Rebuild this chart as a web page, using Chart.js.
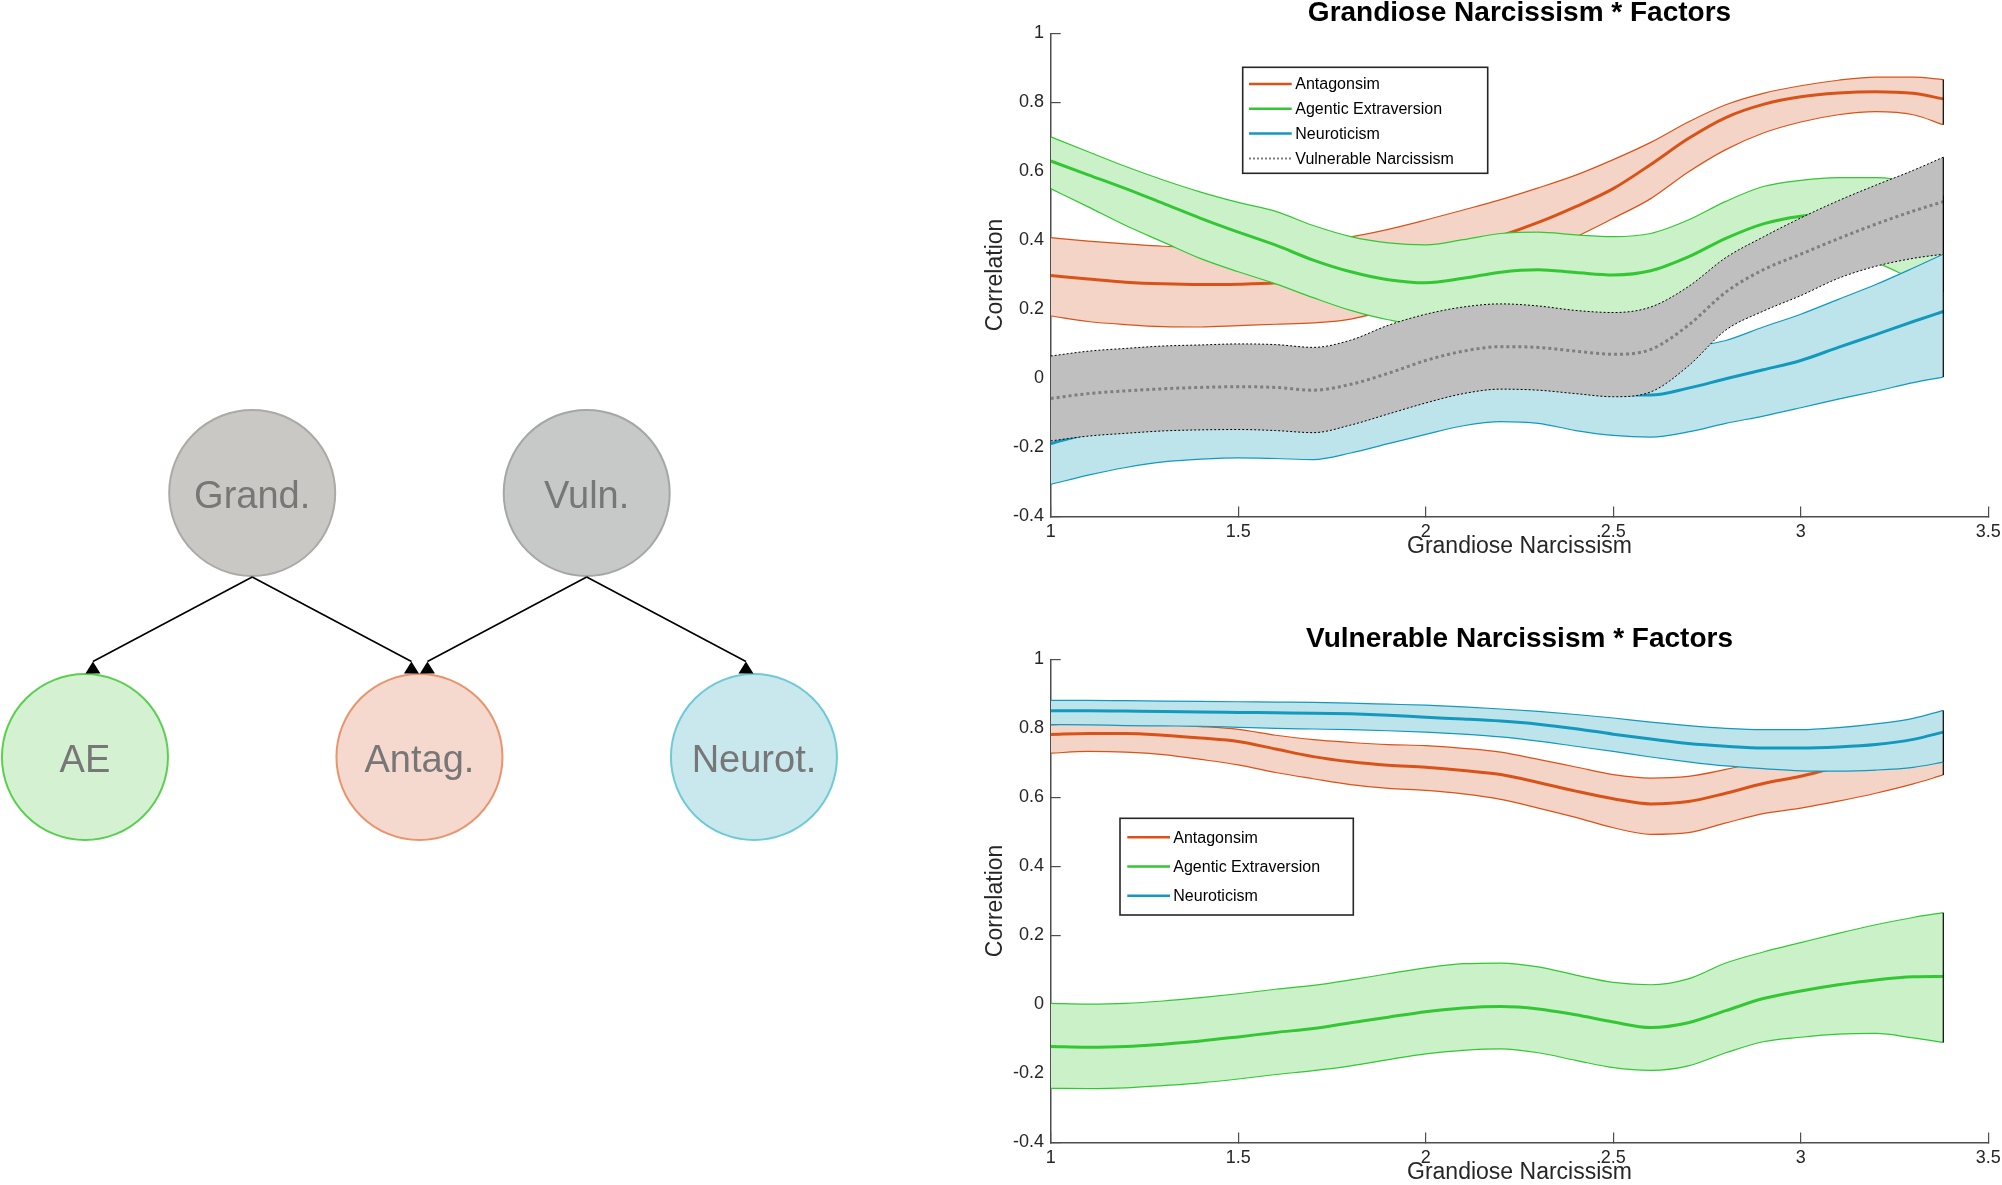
<!DOCTYPE html>
<html>
<head>
<meta charset="utf-8">
<title>Narcissism * Factors</title>
<script src="https://cdn.jsdelivr.net/npm/chart.js@4.4.1/dist/chart.umd.min.js"></script>
<style>
  html, body { margin: 0; padding: 0; background: #fff; }
  #page { position: relative; width: 2002px; height: 1185px; overflow: hidden; }
  .box { position: absolute; }
</style>
</head>
<body>
<div id="page">
  <div class="box" style="left:0;top:0;width:960px;height:1185px"><canvas id="diagram"></canvas></div>
  <div class="box" style="left:960px;top:0;width:1042px;height:559px"><canvas id="grandChart"></canvas></div>
  <div class="box" style="left:960px;top:626px;width:1042px;height:559px"><canvas id="vulnChart"></canvas></div>
</div>
<script>
// ---- diagram ----
const nodeNames = ['Grand.', 'Vuln.', 'AE', 'Antag.', 'Neurot.'];
const nodeCol = [1, 3, 0, 2, 4];
const nodeRow = [1, 1, 0, 0, 0];
const nodeFill = ['#c9c8c4', '#c6c9c8', '#d4f1d1', '#f6d9ce', '#c9e8ed'];
const nodeEdge = ['#abaaa6', '#a5a7a7', '#5ccf52', '#e8946c', '#6fcad6'];
const edges = [[0, 2], [0, 3], [1, 3], [1, 4]];

// ---- line charts ----
const xs = [1.0, 1.1, 1.2, 1.3, 1.4, 1.5, 1.6, 1.7, 1.8, 1.9, 2.0, 2.1, 2.2, 2.3, 2.4, 2.5, 2.6, 2.7, 2.8, 2.9, 3.0, 3.1, 3.2, 3.3, 3.38];
const factorNames = ['Antagonsim', 'Agentic Extraversion', 'Neuroticism', 'Vulnerable Narcissism'];
const xTicks = [1, 1.5, 2, 2.5, 3, 3.5];
const yTicks = [-0.4, -0.2, 0, 0.2, 0.4, 0.6, 0.8, 1];

// Grandiose narcissism panel
const gAntHi  = [0.408, 0.398, 0.390, 0.383, 0.380, 0.380, 0.384, 0.395, 0.410, 0.432, 0.459, 0.488, 0.518, 0.552, 0.589, 0.634, 0.684, 0.743, 0.793, 0.826, 0.848, 0.864, 0.873, 0.873, 0.866];
const gAntMid = [0.298, 0.288, 0.279, 0.274, 0.272, 0.273, 0.277, 0.288, 0.305, 0.327, 0.352, 0.380, 0.413, 0.452, 0.498, 0.550, 0.620, 0.695, 0.756, 0.794, 0.816, 0.827, 0.831, 0.826, 0.810];
const gAntLo  = [0.181, 0.165, 0.156, 0.150, 0.149, 0.153, 0.157, 0.161, 0.172, 0.200, 0.245, 0.285, 0.325, 0.365, 0.410, 0.464, 0.521, 0.598, 0.663, 0.711, 0.743, 0.764, 0.773, 0.764, 0.735];

const gAeHi  = [0.700, 0.657, 0.614, 0.575, 0.540, 0.510, 0.484, 0.443, 0.411, 0.393, 0.387, 0.402, 0.420, 0.424, 0.416, 0.411, 0.420, 0.459, 0.513, 0.556, 0.574, 0.582, 0.582, 0.565, 0.530];
const gAeMid = [0.630, 0.590, 0.550, 0.507, 0.464, 0.424, 0.386, 0.343, 0.309, 0.286, 0.277, 0.290, 0.308, 0.315, 0.307, 0.300, 0.312, 0.352, 0.406, 0.448, 0.470, 0.478, 0.465, 0.440, 0.400];
const gAeLo  = [0.550, 0.497, 0.443, 0.395, 0.347, 0.309, 0.274, 0.234, 0.197, 0.170, 0.155, 0.165, 0.185, 0.195, 0.190, 0.185, 0.195, 0.235, 0.285, 0.325, 0.345, 0.348, 0.335, 0.287, 0.250];

const gNeuHi  = [-0.070, -0.060, -0.045, -0.035, -0.030, -0.025, -0.025, -0.030, -0.010, 0.020, 0.050, 0.070, 0.080, 0.080, 0.075, 0.070, 0.075, 0.090, 0.110, 0.149, 0.186, 0.229, 0.272, 0.320, 0.360];
const gNeuMid = [-0.189, -0.160, -0.145, -0.135, -0.130, -0.125, -0.125, -0.130, -0.110, -0.080, -0.050, -0.025, -0.015, -0.018, -0.030, -0.045, -0.048, -0.028, -0.001, 0.025, 0.052, 0.090, 0.127, 0.165, 0.194];
const gNeuLo  = [-0.307, -0.280, -0.258, -0.242, -0.234, -0.230, -0.232, -0.235, -0.216, -0.189, -0.162, -0.137, -0.125, -0.130, -0.151, -0.165, -0.170, -0.155, -0.130, -0.109, -0.085, -0.060, -0.037, -0.012, 0.004];

const gVulHi  = [0.065, 0.079, 0.087, 0.094, 0.097, 0.100, 0.098, 0.090, 0.111, 0.154, 0.186, 0.207, 0.216, 0.210, 0.197, 0.191, 0.207, 0.266, 0.350, 0.410, 0.465, 0.515, 0.560, 0.603, 0.641];
const gVulMid = [-0.058, -0.044, -0.036, -0.030, -0.026, -0.024, -0.026, -0.034, -0.017, 0.015, 0.052, 0.079, 0.092, 0.090, 0.079, 0.070, 0.084, 0.154, 0.250, 0.315, 0.360, 0.405, 0.447, 0.485, 0.512];
const gVulLo  = [-0.181, -0.167, -0.159, -0.152, -0.149, -0.148, -0.151, -0.157, -0.135, -0.103, -0.071, -0.044, -0.031, -0.034, -0.044, -0.053, -0.039, 0.036, 0.140, 0.195, 0.240, 0.290, 0.325, 0.348, 0.360];

// Vulnerable narcissism panel
const vAntHi  = [0.810, 0.815, 0.815, 0.810, 0.805, 0.797, 0.780, 0.767, 0.759, 0.753, 0.750, 0.742, 0.731, 0.710, 0.688, 0.666, 0.656, 0.661, 0.681, 0.705, 0.730, 0.750, 0.765, 0.775, 0.785];
const vAntMid = [0.782, 0.785, 0.785, 0.780, 0.772, 0.762, 0.740, 0.718, 0.703, 0.693, 0.687, 0.678, 0.666, 0.643, 0.618, 0.596, 0.581, 0.588, 0.612, 0.640, 0.661, 0.688, 0.705, 0.718, 0.728];
const vAntLo  = [0.728, 0.733, 0.731, 0.724, 0.710, 0.694, 0.672, 0.654, 0.637, 0.626, 0.620, 0.610, 0.594, 0.569, 0.542, 0.512, 0.493, 0.498, 0.526, 0.553, 0.569, 0.589, 0.612, 0.639, 0.665];

const vAeHi  = [0.003, 0.001, 0.003, 0.010, 0.020, 0.031, 0.044, 0.055, 0.071, 0.089, 0.106, 0.118, 0.120, 0.109, 0.085, 0.064, 0.057, 0.074, 0.120, 0.152, 0.179, 0.206, 0.231, 0.252, 0.266];
const vAeMid = [-0.122, -0.124, -0.122, -0.115, -0.106, -0.094, -0.081, -0.070, -0.053, -0.037, -0.021, -0.010, -0.006, -0.013, -0.030, -0.051, -0.067, -0.053, -0.018, 0.017, 0.039, 0.057, 0.071, 0.080, 0.081];
const vAeLo  = [-0.243, -0.244, -0.242, -0.235, -0.227, -0.216, -0.203, -0.192, -0.178, -0.160, -0.143, -0.133, -0.129, -0.140, -0.162, -0.183, -0.191, -0.178, -0.140, -0.108, -0.095, -0.086, -0.084, -0.097, -0.110];

const vNeuHi  = [0.881, 0.881, 0.880, 0.879, 0.878, 0.877, 0.876, 0.875, 0.873, 0.870, 0.867, 0.862, 0.856, 0.849, 0.840, 0.830, 0.818, 0.808, 0.800, 0.796, 0.796, 0.802, 0.813, 0.829, 0.852];
const vNeuMid = [0.851, 0.851, 0.850, 0.849, 0.847, 0.846, 0.845, 0.844, 0.842, 0.838, 0.832, 0.827, 0.821, 0.812, 0.799, 0.783, 0.769, 0.756, 0.748, 0.743, 0.743, 0.746, 0.753, 0.768, 0.789];
const vNeuLo  = [0.811, 0.810, 0.808, 0.807, 0.806, 0.803, 0.800, 0.798, 0.796, 0.793, 0.789, 0.783, 0.775, 0.763, 0.748, 0.733, 0.717, 0.703, 0.691, 0.683, 0.677, 0.676, 0.679, 0.687, 0.702];

const lineColors = ['#d95319', '#33c733', '#1399bd', '#7f7f7f'];
const bandColors = ['#f5d4c8', '#cbf1c9', '#bde4eb', '#bfbfbf'];

Chart.defaults.font.family = '"Liberation Sans", Arial, Helvetica, sans-serif';
Chart.defaults.color = '#262626';

const pts = arr => arr.map((v, i) => ({ x: xs[i], y: v }));

// one factor = filled band + two edges + mean + black closing edge at the right end
function factorSets(k, lo, mid, hi, order, grey) {
  const edge = grey
    ? { borderColor: '#000', borderWidth: 1, borderDash: [2, 2] }
    : { borderColor: lineColors[k], borderWidth: 1.2 };
  const last = xs.length - 1;
  return [
    Object.assign({ data: pts(hi), fill: '+1', backgroundColor: bandColors[k], order: order + 4 }, edge),
    Object.assign({ data: pts(lo), fill: false, order: order + 3 }, edge),
    { data: pts(mid), fill: false, borderColor: lineColors[k], borderWidth: 3,
      borderDash: grey ? [3, 3] : [], order: order + 2, legendLabel: factorNames[k] },
    { data: [{ x: xs[last], y: hi[last] }, { x: xs[last], y: lo[last] }], fill: false,
      borderColor: '#000', borderWidth: 1.2, tension: 0, cubicInterpolationMode: 'default', order: order + 1 }
  ];
}

const panelTitle = {
  id: 'panelTitle',
  afterDraw(chart, args, opts) {
    const { ctx, chartArea } = chart;
    ctx.save();
    ctx.font = 'bold 28px "Liberation Sans", Arial, sans-serif';
    ctx.fillStyle = '#000';
    ctx.textAlign = 'center';
    ctx.textBaseline = 'alphabetic';
    ctx.fillText(opts.text, (chartArea.left + chartArea.right) / 2, chartArea.top - opts.gap);
    ctx.restore();
  }
};

const boxLegend = {
  id: 'boxLegend',
  afterDraw(chart, args, opts) {
    const { ctx } = chart;
    const items = chart.data.datasets.filter(d => d.legendLabel);
    ctx.save();
    ctx.fillStyle = '#fff';
    ctx.fillRect(opts.x, opts.y, opts.w, opts.h);
    ctx.strokeStyle = '#262626';
    ctx.lineWidth = 1.6;
    ctx.strokeRect(opts.x, opts.y, opts.w, opts.h);
    ctx.font = '16px "Liberation Sans", Arial, sans-serif';
    ctx.textBaseline = 'middle';
    ctx.textAlign = 'left';
    items.forEach((d, i) => {
      const y = opts.y + opts.first + i * opts.step;
      ctx.strokeStyle = d.borderColor;
      ctx.lineWidth = d.borderDash.length ? 2 : 2.5;
      ctx.setLineDash(d.borderDash.length ? [2, 2] : []);
      ctx.beginPath();
      ctx.moveTo(opts.x + opts.lineFrom, y);
      ctx.lineTo(opts.x + opts.lineTo, y);
      ctx.stroke();
      ctx.setLineDash([]);
      ctx.fillStyle = '#000';
      ctx.fillText(d.legendLabel, opts.x + opts.textAt, y + 1);
    });
    ctx.restore();
  }
};

const tickFmt = v => String(Math.round(v * 10) / 10);

function panelOptions(title, legendBox) {
  return {
    responsive: true,
    maintainAspectRatio: false,
    animation: false,
    events: [],
    layout: { padding: { top: 33.3, right: 13.7, left: 0, bottom: 0 } },
    elements: { point: { radius: 0 }, line: { cubicInterpolationMode: 'monotone' } },
    scales: {
      x: {
        type: 'linear', min: 1, max: 3.5,
        afterBuildTicks: s => { s.ticks = xTicks.map(v => ({ value: v })); },
        afterFit: s => { s.height = 42.5; s.paddingLeft = 0; s.paddingRight = 0; },
        grid: { drawOnChartArea: false, drawTicks: true, tickLength: -10, color: '#4d4d4d', lineWidth: 1.2 },
        border: { color: '#4d4d4d', width: 1.5 },
        ticks: { padding: 14.7, autoSkip: false, maxRotation: 0, font: { size: 18 }, callback: tickFmt },
        title: { display: true, text: 'Grandiose Narcissism', font: { size: 23, lineHeight: 1.1 }, padding: 0 }
      },
      y: {
        type: 'linear', min: -0.4, max: 1,
        afterBuildTicks: s => { s.ticks = yTicks.map(v => ({ value: v })); },
        afterFit: s => { s.width = 90.7; s.paddingTop = 0; s.paddingBottom = 0; },
        grid: { drawOnChartArea: false, drawTicks: true, tickLength: -10, color: '#4d4d4d', lineWidth: 1.2 },
        border: { color: '#4d4d4d', width: 1.5 },
        ticks: { padding: 16.7, autoSkip: false, font: { size: 18 }, callback: tickFmt },
        title: { display: true, text: 'Correlation', font: { size: 23, lineHeight: 1.1 }, padding: { top: 23.4, bottom: 0 } }
      }
    },
    plugins: {
      legend: { display: false },
      tooltip: { enabled: false },
      panelTitle: { text: title, gap: 12.8 },
      boxLegend: legendBox
    }
  };
}

document.addEventListener('DOMContentLoaded', () => {
  // diagram: bubbles placed on a column/row grid
  new Chart(document.getElementById('diagram'), {
    type: 'scatter',
    data: {
      datasets: [{
        data: nodeNames.map((n, i) => ({ x: nodeCol[i], y: nodeRow[i] })),
        pointRadius: 83,
        pointBorderWidth: 2,
        pointBackgroundColor: nodeFill,
        pointBorderColor: nodeEdge,
        clip: false
      }]
    },
    options: {
      responsive: true,
      maintainAspectRatio: false,
      animation: false,
      events: [],
      layout: { padding: 0, autoPadding: false },
      scales: {
        x: { type: 'linear', display: false, min: -0.508, max: 5.232 },
        y: { type: 'linear', display: false, min: -1.621, max: 2.867 }
      },
      plugins: { legend: { display: false }, tooltip: { enabled: false } }
    },
    plugins: [{
      id: 'arrowsAndNames',
      afterDatasetsDraw(chart) {
        const { ctx, scales: { x, y } } = chart;
        const r = 84;
        ctx.save();
        ctx.strokeStyle = '#000';
        ctx.fillStyle = '#000';
        ctx.lineWidth = 1.6;
        edges.forEach(([from, to]) => {
          const fx = x.getPixelForValue(nodeCol[from]);
          const fy = y.getPixelForValue(nodeRow[from]) + r;
          const cx = x.getPixelForValue(nodeCol[to]);
          const top = y.getPixelForValue(nodeRow[to]) - r;
          const tx = cx + 8 * Math.sign(fx - cx);
          const ty = top - 11.5;
          ctx.beginPath();
          ctx.moveTo(fx, fy);
          ctx.lineTo(tx, ty);
          ctx.stroke();
          ctx.beginPath();
          ctx.moveTo(tx, ty);
          ctx.lineTo(tx - 7.5, top + 0.5);
          ctx.lineTo(tx + 7.5, top + 0.5);
          ctx.closePath();
          ctx.fill();
        });
        ctx.font = '38px "Liberation Sans", Arial, sans-serif';
        ctx.fillStyle = '#777777';
        ctx.textAlign = 'center';
        ctx.textBaseline = 'alphabetic';
        nodeNames.forEach((n, i) => {
          ctx.fillText(n, x.getPixelForValue(nodeCol[i]), y.getPixelForValue(nodeRow[i]) + 15.5);
        });
        ctx.restore();
      }
    }]
  });

  new Chart(document.getElementById('grandChart'), {
    type: 'line',
    data: {
      datasets: [
        ...factorSets(0, gAntLo, gAntMid, gAntHi, 40, false),
        ...factorSets(1, gAeLo, gAeMid, gAeHi, 30, false),
        ...factorSets(2, gNeuLo, gNeuMid, gNeuHi, 20, false),
        ...factorSets(3, gVulLo, gVulMid, gVulHi, 10, true)
      ]
    },
    options: panelOptions('Grandiose Narcissism * Factors',
      { x: 282.7, y: 67.3, w: 245, h: 106, first: 16.7, step: 24.8, lineFrom: 6.3, lineTo: 49, textAt: 52.6 }),
    plugins: [panelTitle, boxLegend]
  });

  new Chart(document.getElementById('vulnChart'), {
    type: 'line',
    data: {
      datasets: [
        ...factorSets(0, vAntLo, vAntMid, vAntHi, 40, false),
        ...factorSets(1, vAeLo, vAeMid, vAeHi, 30, false),
        ...factorSets(2, vNeuLo, vNeuMid, vNeuHi, 20, false)
      ]
    },
    options: panelOptions('Vulnerable Narcissism * Factors',
      { x: 160, y: 192.3, w: 233.3, h: 96.7, first: 19, step: 29.2, lineFrom: 7.3, lineTo: 50, textAt: 53.3 }),
    plugins: [panelTitle, boxLegend]
  });
});
</script>
</body>
</html>
